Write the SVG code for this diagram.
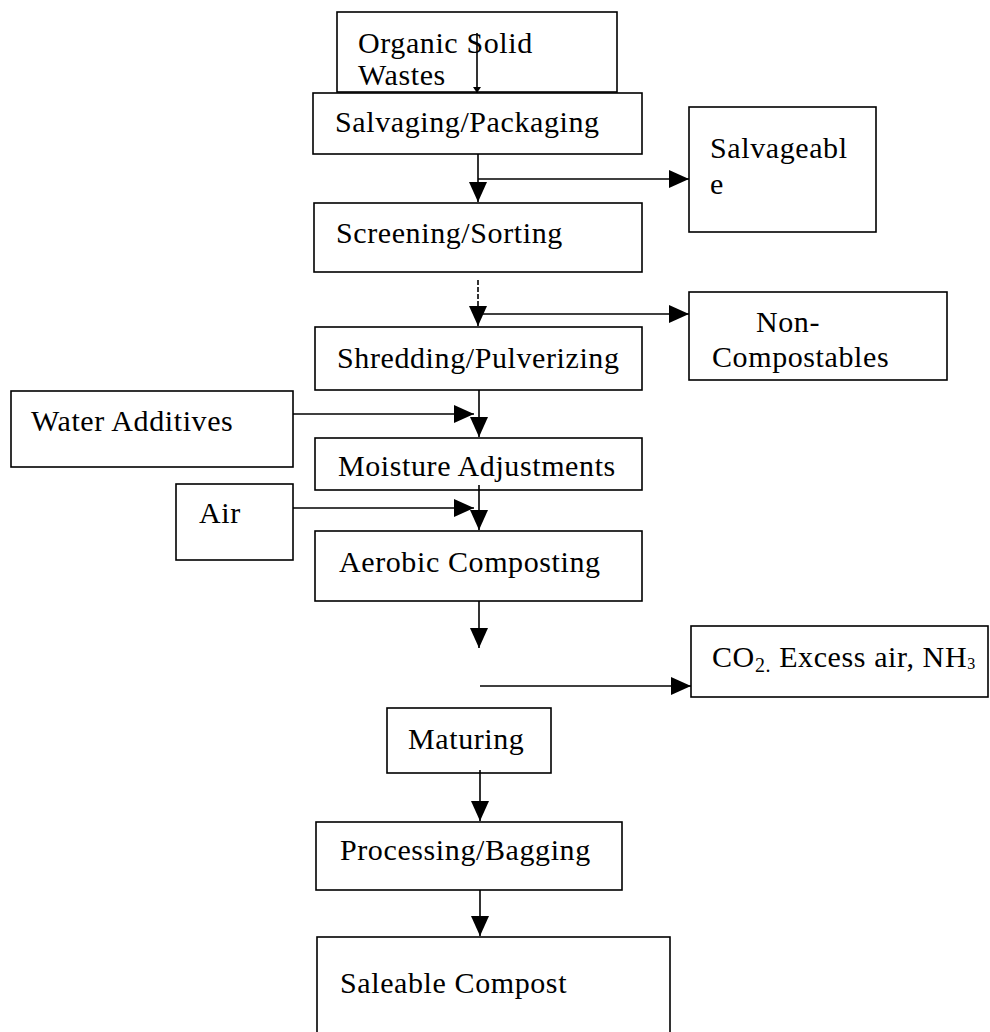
<svg xmlns="http://www.w3.org/2000/svg" width="990" height="1032" viewBox="0 0 990 1032">
<style>
  .box { fill: #fff; stroke: #000; stroke-width: 1.6; }
  .t { font-family: "Liberation Serif", "Times New Roman", serif; font-size: 30px; letter-spacing: 0.6px; fill: #000; }
  .c { stroke: #000; stroke-width: 1.6; fill: none; }
</style>
<defs>
  <marker id="ah" markerUnits="userSpaceOnUse" markerWidth="22" markerHeight="20" refX="20" refY="9" orient="auto">
    <path d="M0,0 L20,9 L0,18 z" fill="#000"/>
  </marker>
  <marker id="ahs" markerUnits="userSpaceOnUse" markerWidth="10" markerHeight="10" refX="6" refY="4" orient="auto">
    <path d="M0,0 L6,4 L0,8 z" fill="#000"/>
  </marker>
</defs>
<rect width="990" height="1032" fill="#fff"/>

<g id="organic"><rect class="box" x="337" y="12" width="280" height="80"/>
  <text class="t" x="358" y="53">Organic Solid</text><text class="t" x="358" y="85">Wastes</text></g>
<g id="salvaging"><rect class="box" x="313" y="93" width="329" height="61"/>
  <text class="t" x="335" y="132">Salvaging/Packaging</text></g>
<g id="salvageable"><rect class="box" x="689" y="107" width="187" height="125"/>
  <text class="t" x="710" y="158">Salvageabl</text><text class="t" x="710" y="194">e</text></g>
<g id="screening"><rect class="box" x="314" y="203" width="328" height="69"/>
  <text class="t" x="336" y="243">Screening/Sorting</text></g>
<g id="noncompostables"><rect class="box" x="689" y="292" width="258" height="88"/>
  <text class="t" x="756" y="332">Non-</text><text class="t" x="712" y="367">Compostables</text></g>
<g id="shredding"><rect class="box" x="315" y="327" width="327" height="63"/>
  <text class="t" x="337" y="368">Shredding/Pulverizing</text></g>
<g id="water"><rect class="box" x="11" y="391" width="282" height="76"/>
  <text class="t" x="31" y="431">Water Additives</text></g>
<g id="moisture"><rect class="box" x="315" y="438" width="327" height="52"/>
  <text class="t" x="338" y="476">Moisture Adjustments</text></g>
<g id="air"><rect class="box" x="176" y="484" width="117" height="76"/>
  <text class="t" x="199" y="523">Air</text></g>
<g id="aerobic"><rect class="box" x="315" y="531" width="327" height="70"/>
  <text class="t" x="339" y="572">Aerobic Composting</text></g>
<g id="emissions"><rect class="box" x="691" y="626" width="297" height="71"/>
  <text class="t" x="712" y="667">CO<tspan font-size="20" dy="5">2.</tspan><tspan dy="-5"> Excess air, NH</tspan><tspan font-size="16" dy="2">3</tspan></text></g>
<g id="maturing"><rect class="box" x="387" y="708" width="164" height="65"/>
  <text class="t" x="408" y="749">Maturing</text></g>
<g id="processing"><rect class="box" x="316" y="822" width="306" height="68"/>
  <text class="t" x="340" y="860">Processing/Bagging</text></g>
<g id="saleable"><rect class="box" x="317" y="937" width="353" height="110"/>
  <text class="t" x="340" y="993">Saleable Compost</text></g>

<g id="connectors">
  <line class="c" x1="477" y1="33" x2="477" y2="93" marker-end="url(#ahs)"/>
  <line class="c" x1="478" y1="154" x2="478" y2="202" marker-end="url(#ah)"/>
  <line class="c" x1="478" y1="179" x2="689" y2="179" marker-end="url(#ah)"/>
  <line class="c" x1="478" y1="280" x2="478" y2="326" stroke-dasharray="5 2" marker-end="url(#ah)"/>
  <line class="c" x1="478" y1="314" x2="689" y2="314" marker-end="url(#ah)"/>
  <line class="c" x1="479" y1="390" x2="479" y2="437" marker-end="url(#ah)"/>
  <line class="c" x1="293" y1="414" x2="474" y2="414" marker-end="url(#ah)"/>
  <line class="c" x1="479" y1="485" x2="479" y2="530" marker-end="url(#ah)"/>
  <line class="c" x1="293" y1="508" x2="474" y2="508" marker-end="url(#ah)"/>
  <line class="c" x1="479" y1="601" x2="479" y2="648" marker-end="url(#ah)"/>
  <line class="c" x1="480" y1="686" x2="691" y2="686" marker-end="url(#ah)"/>
  <line class="c" x1="480" y1="770" x2="480" y2="821" marker-end="url(#ah)"/>
  <line class="c" x1="480" y1="890" x2="480" y2="936" marker-end="url(#ah)"/>
</g>
</svg>
